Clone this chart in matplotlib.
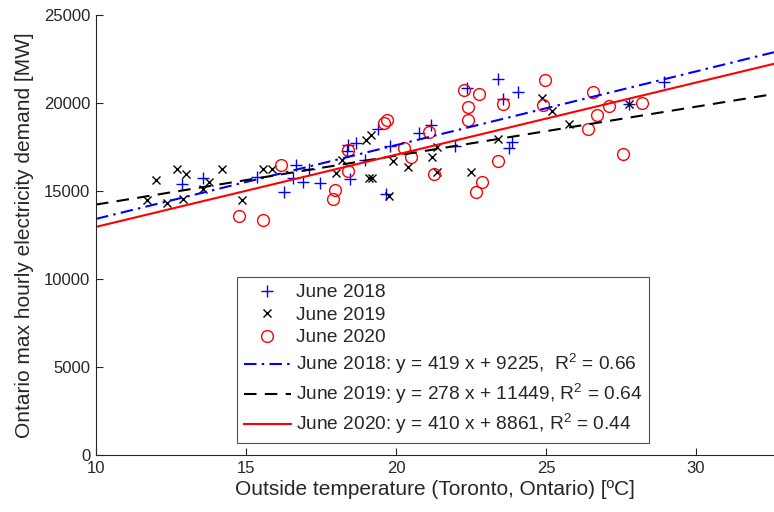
import numpy as np
import matplotlib
matplotlib.use('Agg')
import matplotlib.pyplot as plt

plt.rcParams['font.family'] = ['Liberation Sans', 'DejaVu Sans']
plt.rcParams['mathtext.fontset'] = 'custom'
plt.rcParams['mathtext.rm'] = 'Liberation Sans'

# Daily max hourly demand vs outside temperature, June of each year
temp_2018 = [12.88, 13.58, 15.37, 16.25, 16.68, 16.58, 16.89, 17.10, 17.46, 18.39,
             18.68, 18.37, 18.97, 18.48, 19.41, 19.80, 19.68, 20.78, 21.17, 21.97,
             22.37, 23.39, 24.08, 23.58, 23.88, 23.78, 27.78, 28.92]
demand_2018 = [15400, 15760, 15770, 14960, 16480, 15740, 15510, 16250, 15480, 17610,
               17710, 17290, 16745, 15680, 18495, 17530, 14810, 18320, 18760, 17560,
               20850, 21360, 20640, 20210, 17800, 17470, 19960, 21165]

temp_2019 = [12.01, 12.69, 13.00, 11.69, 12.38, 12.89, 13.58, 13.78, 14.19, 14.88,
             15.57, 15.87, 17.99, 18.19, 19.01, 19.18, 19.09, 19.21, 19.77, 19.89,
             20.39, 21.19, 21.38, 21.38, 22.49, 23.39, 24.88, 25.20, 25.78, 27.78]
demand_2019 = [15630, 16230, 15940, 14510, 14300, 14530, 15140, 15495, 16250, 14490,
               16250, 16250, 16000, 16745, 17900, 18180, 15720, 15720, 14720, 16690,
               16360, 16920, 17490, 16100, 16060, 17970, 20270, 19560, 18810, 19970]

temp_2020 = [14.78, 15.57, 16.18, 17.95, 17.90, 18.39, 18.39, 19.60, 19.70, 20.28,
             20.50, 21.09, 21.28, 22.28, 22.39, 22.39, 22.78, 23.39, 22.88, 22.68,
             23.58, 24.98, 24.89, 26.57, 27.09, 26.69, 26.39, 27.58, 28.20]
demand_2020 = [13600, 13350, 16480, 15060, 14535, 17330, 16140, 18880, 19060, 17440,
               16930, 18370, 15950, 20740, 19790, 19035, 20530, 16730, 15530, 14930,
               19930, 21310, 19900, 20640, 19830, 19320, 18540, 17090, 19980]

# linear fits (slope, intercept, R^2)
fit_2018 = (419, 9225, 0.66)
fit_2019 = (278, 11449, 0.64)
fit_2020 = (410, 8861, 0.44)

x_min, x_max = 10, 32.6
dark = (0.15, 0.15, 0.15)

fig = plt.figure(figsize=(7.74, 5.12), dpi=100)
ax = fig.add_axes([96 / 774, 57 / 512, 678 / 774, 440 / 512])

ax.plot(temp_2018, demand_2018, '+', color='blue', ms=8, mew=1.0, label='June 2018')
ax.plot(temp_2019, demand_2019, 'x', color='black', ms=5.5, mew=1.0, label='June 2019')
ax.plot(temp_2020, demand_2020, 'o', color='red', mfc='none', ms=8.5, mew=1.0, label='June 2020')

xs = np.array([x_min, x_max])
ax.plot(xs, fit_2018[0] * xs + fit_2018[1], '-.', color='blue', lw=1.5, dashes=(6, 2.5, 1.2, 2.5),
        label='June 2018: y = %d x + %d,  R$^2$ = %.2f' % fit_2018)
ax.plot(xs, fit_2019[0] * xs + fit_2019[1], '--', color='black', lw=1.5, dashes=(6, 4),
        label='June 2019: y = %d x + %d, R$^2$ = %.2f' % fit_2019)
ax.plot(xs, fit_2020[0] * xs + fit_2020[1], '-', color='red', lw=1.5,
        label='June 2020: y = %d x + %d, R$^2$ = %.2f' % fit_2020)

ax.set_xlim(x_min, x_max)
ax.set_ylim(0, 25000)
ax.set_xticks([10, 15, 20, 25, 30])
ax.set_yticks([0, 5000, 10000, 15000, 20000, 25000])

for side in ['top', 'right']:
    ax.spines[side].set_visible(False)
for side in ['left', 'bottom']:
    ax.spines[side].set_color(dark)
    ax.spines[side].set_linewidth(0.8)
ax.tick_params(direction='in', length=5, width=0.8, colors=dark, labelsize=12, pad=4)

ax.set_xlabel('Outside temperature (Toronto, Ontario) [ºC]', fontsize=15, color=dark, labelpad=3)
ax.set_ylabel('Ontario max hourly electricity demand [MW]', fontsize=15, color=dark, labelpad=7)

leg = ax.legend(loc='lower left', bbox_to_anchor=(0.208, 0.027), borderaxespad=0,
                fontsize=13.8, frameon=True, fancybox=False, handlelength=2.45,
                handletextpad=0.3, borderpad=0.35, labelspacing=0.27)
leg.get_frame().set_edgecolor(dark)
leg.get_frame().set_linewidth(0.8)
for t in leg.get_texts():
    t.set_color(dark)

fig.savefig('out.png', dpi=100)
